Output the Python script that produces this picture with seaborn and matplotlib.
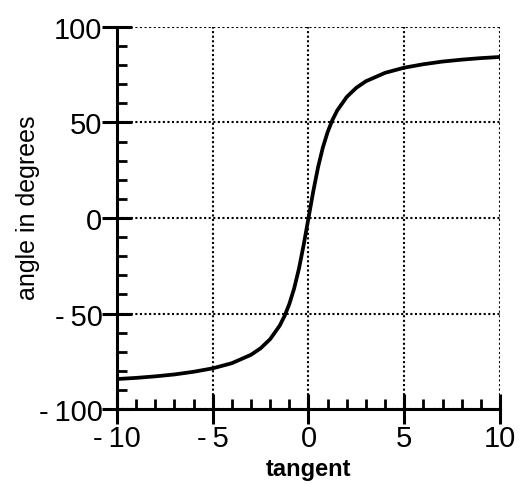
import matplotlib
matplotlib.use("Agg")
import matplotlib.pyplot as plt
from matplotlib.ticker import MultipleLocator
import seaborn as sns
import pandas as pd

# Angle (degrees) for each tangent value
tangent = [-10, -9, -8, -7, -6, -5, -4, -3, -2.5, -2, -1.5, -1.25, -1, -0.75,
           -0.5, -0.25, 0, 0.25, 0.5, 0.75, 1, 1.25, 1.5, 2, 2.5, 3, 4, 5,
           6, 7, 8, 9, 10]
angle = [-84.3, -83.7, -82.9, -81.9, -80.5, -78.7, -76.0, -71.6, -68.2, -63.4,
         -56.3, -51.3, -45.0, -36.9, -26.6, -14.0, 0.0, 14.0, 26.6, 36.9,
         45.0, 51.3, 56.3, 63.4, 68.2, 71.6, 76.0, 78.7, 80.5, 81.9, 82.9,
         83.7, 84.3]

x_ticks = [-10, -5, 0, 5, 10]
x_labels = ["-\u200910", "-\u20095", "0", "5", "10"]
y_ticks = [-100, -50, 0, 50, 100]
y_labels = ["-\u2009100", "-\u200950", "0", "50", "100"]

df = pd.DataFrame({"tangent": tangent, "angle": angle})

sns.set_style("white")
plt.rcParams["font.family"] = ["Liberation Sans", "DejaVu Sans"]
plt.rcParams["text.color"] = "black"
plt.rcParams["axes.labelcolor"] = "black"
plt.rcParams["xtick.labelcolor"] = "black"
plt.rcParams["ytick.labelcolor"] = "black"

fig = plt.figure(figsize=(5.2, 4.85), dpi=100)
ax = fig.add_axes([0.225, 0.1546, 0.7365, 0.7877])

sns.lineplot(data=df, x="tangent", y="angle", ax=ax, color="black",
             linewidth=2.7, zorder=5)

ax.set_xlim(-10, 10)
ax.set_ylim(-100, 100)
ax.set_xticks(x_ticks)
ax.set_xticklabels(x_labels)
ax.set_yticks(y_ticks)
ax.set_yticklabels(y_labels)
ax.xaxis.set_minor_locator(MultipleLocator(1))
ax.yaxis.set_minor_locator(MultipleLocator(10))

ax.grid(True, which="major", color="black", linestyle=(0, (1, 1.2)),
        linewidth=1.5)

for side in ["top", "right"]:
    ax.spines[side].set_visible(False)
for side in ["left", "bottom"]:
    ax.spines[side].set_linewidth(2.2)
    ax.spines[side].set_color("black")

ax.tick_params(axis="both", which="major", direction="inout", length=21,
               width=2.2, color="black", labelsize=21, pad=0,
               labelcolor="black")
ax.tick_params(axis="both", which="minor", direction="in", length=7.5,
               width=2.0, color="black")
ax.tick_params(axis="both", which="both", left=True, bottom=True)

ax.set_xlabel("tangent", fontsize=17, fontweight="bold", labelpad=4,
              color="black")
ax.set_ylabel("angle in degrees", fontsize=18, color="black")
ax.yaxis.set_label_coords(-0.20, 0.53)

fig.savefig("out.png", dpi=100, facecolor="white")
